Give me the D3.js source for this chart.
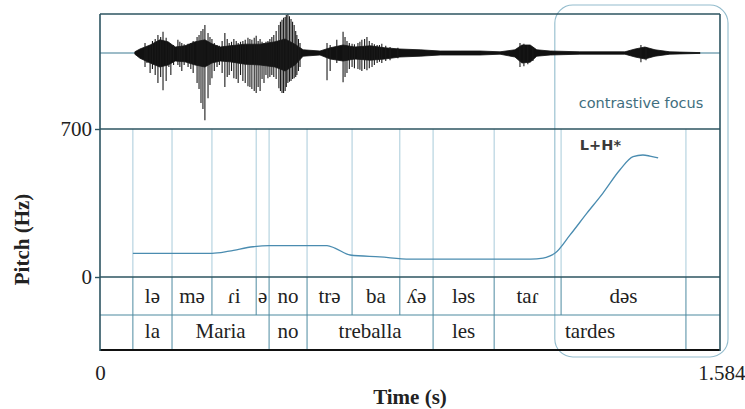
<!DOCTYPE html>
<html>
<head>
<meta charset="utf-8">
<script src="https://cdn.jsdelivr.net/npm/d3@7"></script>
<style>
  body { margin: 0; background: #fff; }
</style>
</head>
<body>
<div id="chart"></div>
<script>
  // pitch track (s, Hz)
  var pitchTime = [0.084, 0.286, 0.330, 0.391, 0.432, 0.580, 0.600, 0.639, 0.715, 0.792, 0.900, 1.000, 1.100, 1.132, 1.150, 1.162, 1.201, 1.244, 1.285, 1.328, 1.362, 1.387, 1.405, 1.426];
  var pitchHz   = [112, 112, 122, 143, 148, 148, 137, 104, 95, 85, 85, 85, 85, 89, 100, 112, 199, 302, 397, 506, 569, 577, 572, 563];

  // syllable tier
  var sylBounds = [0.084, 0.184, 0.286, 0.399, 0.432, 0.529, 0.644, 0.766, 0.851, 1.007, 1.178, 1.497];
  var sylLabels = ["lə", "mə", "ɾi", "ə", "no", "trə", "ba", "ʎə", "ləs", "taɾ", "dəs"];

  // word tier
  var wordBounds = [0.084, 0.184, 0.432, 0.529, 0.851, 1.007, 1.497];
  var wordLabels = ["la", "Maria", "no", "treballa", "les", "tardes"];

  // waveform envelope (s, upper, lower amplitude)
  var envTime = [0.089, 0.102, 0.128, 0.153, 0.174, 0.192, 0.217, 0.243, 0.268, 0.286, 0.307, 0.332, 0.370, 0.409, 0.447, 0.473, 0.498, 0.519, 0.562, 0.588, 0.621, 0.651, 0.690, 0.728, 0.766, 0.818, 0.869, 0.920, 0.971, 1.022, 1.060, 1.078, 1.099, 1.116, 1.150, 1.226, 1.341, 1.367, 1.392, 1.418, 1.456, 1.533];
  var envUp   = [0.03, 0.10, 0.20, 0.33, 0.28, 0.15, 0.18, 0.28, 0.33, 0.23, 0.15, 0.18, 0.22, 0.22, 0.28, 0.35, 0.22, 0.08, 0.05, 0.13, 0.20, 0.15, 0.18, 0.13, 0.10, 0.08, 0.05, 0.05, 0.05, 0.03, 0.08, 0.20, 0.20, 0.08, 0.05, 0.03, 0.03, 0.10, 0.15, 0.08, 0.03, 0.01];
  var envDown = [0.03, 0.13, 0.25, 0.35, 0.30, 0.20, 0.22, 0.30, 0.35, 0.25, 0.20, 0.22, 0.28, 0.30, 0.35, 0.45, 0.30, 0.08, 0.05, 0.15, 0.20, 0.15, 0.18, 0.15, 0.10, 0.08, 0.05, 0.05, 0.05, 0.03, 0.10, 0.25, 0.23, 0.08, 0.05, 0.03, 0.03, 0.10, 0.15, 0.08, 0.03, 0.01];

  // waveform peaks
  var spikeTime = [0.115, 0.120, 0.128, 0.134, 0.141, 0.148, 0.155, 0.161, 0.169, 0.176, 0.181, 0.188, 0.199, 0.204, 0.209, 0.215, 0.225, 0.232, 0.238, 0.248, 0.253, 0.258, 0.263, 0.268, 0.276, 0.281, 0.286, 0.292, 0.299, 0.305, 0.312, 0.319, 0.325, 0.330, 0.336, 0.342, 0.348, 0.353, 0.359, 0.365, 0.371, 0.378, 0.383, 0.388, 0.394, 0.399, 0.404, 0.409, 0.414, 0.419, 0.424, 0.429, 0.434, 0.439, 0.444, 0.450, 0.457, 0.461, 0.465, 0.469, 0.473, 0.476, 0.480, 0.484, 0.488, 0.492, 0.496, 0.500, 0.503, 0.507, 0.511, 0.580, 0.588, 0.605, 0.621, 0.626, 0.631, 0.637, 0.644, 0.650, 0.659, 0.664, 0.669, 0.676, 0.682, 0.688, 0.695, 0.701, 0.708, 0.714, 0.720, 0.730, 0.741, 0.761, 1.073, 1.083, 1.093, 1.106, 1.382, 1.395];
  var spikeUp   = [0.25, 0.15, 0.20, 0.30, 0.35, 0.45, 0.40, 0.53, 0.38, 0.25, 0.20, 0.20, 0.33, 0.28, 0.25, 0.22, 0.23, 0.25, 0.30, 0.40, 0.45, 0.55, 0.60, 0.70, 0.50, 0.40, 0.35, 0.25, 0.20, 0.18, 0.30, 0.50, 0.35, 0.25, 0.28, 0.35, 0.30, 0.25, 0.28, 0.30, 0.33, 0.38, 0.35, 0.33, 0.38, 0.43, 0.30, 0.35, 0.28, 0.25, 0.28, 0.30, 0.35, 0.40, 0.45, 0.55, 0.70, 0.78, 0.83, 0.88, 0.90, 0.95, 1.00, 0.92, 0.85, 0.78, 0.70, 0.55, 0.45, 0.35, 0.25, 0.25, 0.20, 0.33, 0.53, 0.40, 0.30, 0.25, 0.23, 0.22, 0.25, 0.28, 0.33, 0.35, 0.40, 0.30, 0.25, 0.22, 0.20, 0.20, 0.23, 0.18, 0.15, 0.13, 0.25, 0.23, 0.20, 0.15, 0.20, 0.15];
  var spikeDown = [0.35, 0.25, 0.50, 0.40, 0.55, 0.75, 0.60, 0.93, 0.70, 0.35, 0.55, 0.30, 0.30, 0.35, 0.45, 0.30, 0.35, 0.40, 0.50, 0.75, 0.90, 1.25, 1.40, 1.68, 1.13, 0.80, 0.63, 0.45, 0.35, 0.30, 0.50, 0.85, 0.60, 0.55, 0.45, 0.63, 0.65, 0.75, 0.55, 0.70, 0.75, 0.83, 0.85, 0.90, 0.95, 1.00, 0.85, 0.95, 0.65, 0.75, 0.55, 0.63, 0.60, 0.55, 0.60, 0.65, 0.88, 0.95, 1.00, 1.00, 0.95, 0.85, 0.75, 0.72, 0.70, 0.65, 0.63, 0.60, 0.55, 0.45, 0.35, 0.68, 0.45, 0.25, 0.73, 0.60, 0.50, 0.40, 0.35, 0.38, 0.40, 0.42, 0.45, 0.40, 0.43, 0.38, 0.35, 0.30, 0.25, 0.22, 0.25, 0.20, 0.18, 0.13, 0.35, 0.33, 0.28, 0.20, 0.23, 0.18];

  var duration = 1.584,
      pitchMax = 700;
  var focusLabel = "contrastive focus",
      focusStart = 1.162,
      accentLabel = "L+H*",
      accentTime = 1.226;

  var width = 745,
      height = 409;

  var left = 100, right = 720,
      waveTop = 14, waveBottom = 129,
      pitchBottom = 277, tierMid = 315, tierBottom = 350;

  var frame = "#2c5461",
      boundLight = "#a8cbda",
      boundDark = "#4d8aa0",
      curveCol = "#4a8cb0";

  var svg = d3.select("#chart").append("svg")
      .attr("width", width)
      .attr("height", height);

  var x = d3.scaleLinear()
      .domain([0, duration])
      .range([left, right]);

  var y = d3.scaleLinear()
      .domain([0, pitchMax])
      .range([pitchBottom, waveBottom]);

  var amp = d3.scaleLinear()
      .domain([-1, 1])
      .range([93, 13]);

  svg.append("clipPath").attr("id", "waveclip")
    .append("rect")
      .attr("x", left).attr("y", waveTop)
      .attr("width", right - left).attr("height", waveBottom - waveTop);

  // focus box
  svg.append("rect")
      .attr("x", x(focusStart))
      .attr("y", 5)
      .attr("width", right + 8 - x(focusStart))
      .attr("height", 357 - 5)
      .attr("rx", 18)
      .attr("fill", "none")
      .attr("stroke", "#93bccd")
      .attr("stroke-width", 1.1);

  // waveform
  var wave = svg.append("g").attr("clip-path", "url(#waveclip)");

  wave.append("line")
      .attr("x1", left).attr("x2", right)
      .attr("y1", amp(0)).attr("y2", amp(0))
      .attr("stroke", "#3c7a92")
      .attr("stroke-width", 1.2);

  var env = envTime.map(function(t, i) { return [t, envUp[i], envDown[i]]; });

  wave.append("path")
      .datum(env)
      .attr("fill", "#111")
      .attr("stroke", "#111")
      .attr("stroke-width", 0.8)
      .attr("d", d3.area()
        .x(function(d) { return x(d[0]); })
        .y0(function(d) { return amp(-d[2]); })
        .y1(function(d) { return amp(d[1]); }));

  wave.selectAll("line.spike")
      .data(spikeTime.map(function(t, i) { return [t, spikeUp[i], spikeDown[i]]; }))
    .enter().append("line")
      .attr("class", "spike")
      .attr("x1", function(d) { return x(d[0]); })
      .attr("x2", function(d) { return x(d[0]); })
      .attr("y1", function(d) { return amp(d[1]); })
      .attr("y2", function(d) { return amp(-d[2]); })
      .attr("stroke", "#1a1a1a")
      .attr("stroke-width", 1.1);

  svg.append("text")
      .attr("x", 641)
      .attr("y", 108)
      .attr("text-anchor", "middle")
      .attr("font-family", "DejaVu Sans, sans-serif")
      .attr("font-size", 14.5)
      .attr("fill", "#3f6e7e")
      .text(focusLabel);

  // interval boundaries through pitch panel
  svg.append("g").selectAll("line")
      .data(sylBounds)
    .enter().append("line")
      .attr("x1", function(d) { return x(d); })
      .attr("x2", function(d) { return x(d); })
      .attr("y1", waveBottom)
      .attr("y2", pitchBottom)
      .attr("stroke", boundLight)
      .attr("stroke-width", 1);

  svg.append("g").selectAll("line")
      .data(sylBounds)
    .enter().append("line")
      .attr("x1", function(d) { return x(d); })
      .attr("x2", function(d) { return x(d); })
      .attr("y1", pitchBottom)
      .attr("y2", tierMid)
      .attr("stroke", boundDark)
      .attr("stroke-width", 1);

  svg.append("g").selectAll("line")
      .data(wordBounds)
    .enter().append("line")
      .attr("x1", function(d) { return x(d); })
      .attr("x2", function(d) { return x(d); })
      .attr("y1", tierMid)
      .attr("y2", tierBottom)
      .attr("stroke", boundDark)
      .attr("stroke-width", 1);

  // pitch curve
  var pitch = pitchTime.map(function(t, i) { return [t, pitchHz[i]]; });

  svg.append("path")
      .datum(pitch)
      .attr("fill", "none")
      .attr("stroke", curveCol)
      .attr("stroke-width", 1.3)
      .attr("d", d3.line()
        .x(function(d) { return x(d[0]); })
        .y(function(d) { return y(d[1]); })
        .curve(d3.curveMonotoneX));

  svg.append("text")
      .attr("x", x(accentTime))
      .attr("y", 150)
      .attr("font-family", "DejaVu Sans, sans-serif")
      .attr("font-weight", "bold")
      .attr("font-size", 14.5)
      .attr("fill", "#3a3a3a")
      .text(accentLabel);

  // tier labels
  var serif = "Liberation Serif, Times New Roman, serif";

  svg.append("g").selectAll("text")
      .data(sylLabels)
    .enter().append("text")
      .attr("x", function(d, i) { return (x(sylBounds[i]) + x(sylBounds[i + 1])) / 2; })
      .attr("y", 303)
      .attr("text-anchor", "middle")
      .attr("font-family", serif)
      .attr("font-size", 21)
      .attr("fill", "#222")
      .text(function(d) { return d; });

  svg.append("g").selectAll("text")
      .data(wordLabels)
    .enter().append("text")
      .attr("x", function(d, i) { return (x(wordBounds[i]) + x(wordBounds[i + 1])) / 2; })
      .attr("y", 338)
      .attr("text-anchor", "middle")
      .attr("font-family", serif)
      .attr("font-size", 21)
      .attr("fill", "#222")
      .text(function(d) { return d; });

  // frame
  var hlines = [[waveTop, frame, 1.6], [waveBottom, frame, 1.6], [pitchBottom, frame, 1.6], [tierMid, boundDark, 1.2]];
  hlines.forEach(function(h) {
    svg.append("line")
        .attr("x1", left).attr("x2", right)
        .attr("y1", h[0]).attr("y2", h[0])
        .attr("stroke", h[1])
        .attr("stroke-width", h[2]);
  });

  svg.append("line")
      .attr("x1", left).attr("x2", right)
      .attr("y1", tierBottom).attr("y2", tierBottom)
      .attr("stroke", "#111")
      .attr("stroke-width", 2.2);

  [left, right].forEach(function(v) {
    svg.append("line")
        .attr("x1", v).attr("x2", v)
        .attr("y1", waveTop).attr("y2", tierBottom + 1)
        .attr("stroke", frame)
        .attr("stroke-width", 1.6);
  });

  // axes
  var yAxis = svg.append("g")
      .attr("transform", "translate(" + left + ",0)")
      .call(d3.axisLeft(y).tickValues([0, pitchMax]).tickSize(5).tickPadding(3));
  yAxis.select(".domain").remove();
  yAxis.selectAll("line").attr("stroke", frame).attr("stroke-width", 1.4);
  yAxis.selectAll("text")
      .attr("font-family", serif)
      .attr("font-size", 21)
      .attr("fill", "#222");

  var xAxis = svg.append("g")
      .attr("transform", "translate(0," + tierBottom + ")")
      .call(d3.axisBottom(x).tickValues([0, duration]).tickSize(0).tickPadding(15)
        .tickFormat(function(d) { return d ? d3.format(".3f")(d) : "0"; }));
  xAxis.select(".domain").remove();
  xAxis.selectAll("text")
      .attr("font-family", serif)
      .attr("font-size", 21)
      .attr("fill", "#222");
  xAxis.selectAll(".tick").filter(function(d) { return d === duration; })
    .select("text")
      .attr("text-anchor", "end")
      .attr("dx", 25);

  svg.append("text")
      .attr("x", (left + right) / 2)
      .attr("y", 404)
      .attr("text-anchor", "middle")
      .attr("font-family", serif)
      .attr("font-weight", "bold")
      .attr("font-size", 21)
      .attr("fill", "#222")
      .text("Time (s)");

  svg.append("text")
      .attr("transform", "translate(29," + (waveBottom + tierBottom) / 2 + ") rotate(-90)")
      .attr("text-anchor", "middle")
      .attr("font-family", serif)
      .attr("font-weight", "bold")
      .attr("font-size", 21)
      .attr("fill", "#222")
      .text("Pitch (Hz)");
</script>
</body>
</html>
